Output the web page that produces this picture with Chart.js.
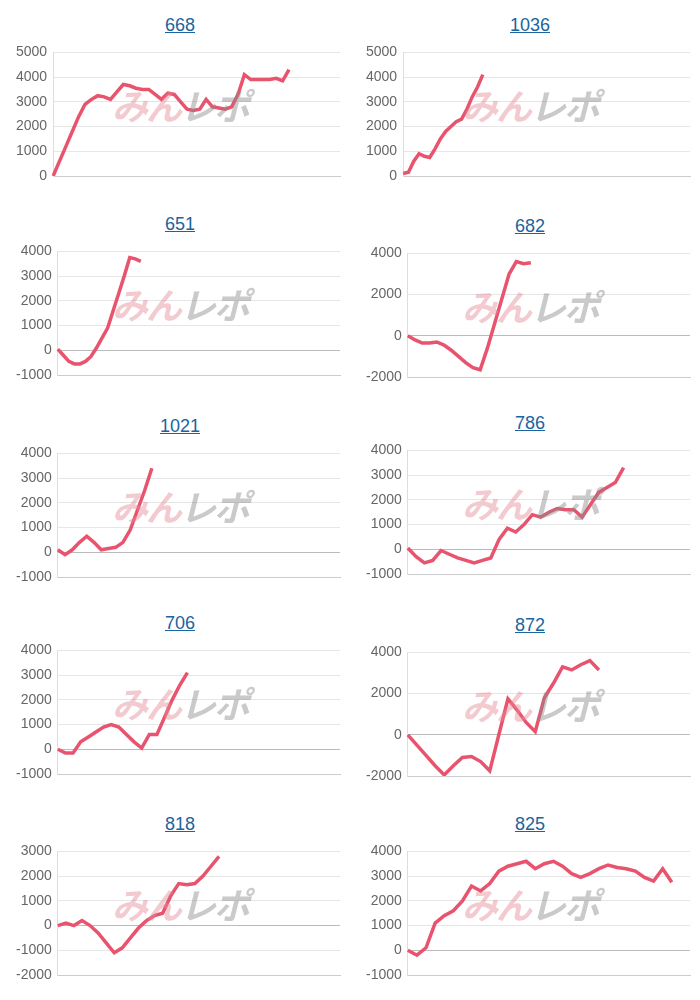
<!DOCTYPE html>
<html><head><meta charset="utf-8">
<script src="https://cdn.jsdelivr.net/npm/chart.js@4"></script>
<style>
body{margin:0;width:700px;height:1000px;background:#fff;font-family:Arial,"Liberation Sans",sans-serif;position:relative;overflow:hidden}
.t{position:absolute;width:340px;text-align:center;font-size:18px;color:#1a64a0;text-decoration:underline;line-height:20px}
.c{position:absolute}
.wm{position:absolute;font:italic bold 36px "Noto Sans CJK JP",sans-serif;letter-spacing:-2px;opacity:.45;pointer-events:none}
.wm .a{color:#e48a95}.wm .b{color:#8a8a8a}
</style></head><body>
<script>
const titles=["668","1036","651","682","1021","786","706","872","818","825"];
const totals=[46,55,52,40,40,35,38,32,36,32];
const s668=[0,600,1200,1800,2400,2900,3100,3250,3200,3100,3400,3700,3650,3550,3500,3500,3300,3100,3350,3300,3000,2700,2650,2700,3100,2800,2750,2700,2800,3300,4100,3900,3900,3900,3900,3950,3850,4300];
const s1036=[100,150,600,900,800,750,1100,1500,1800,2000,2200,2300,2700,3200,3600,4100];
const s651=[50,-200,-450,-550,-550,-450,-250,100,500,900,1600,2300,3000,3750,3700,3600];
const s682=[0,-200,-350,-350,-300,-450,-700,-1000,-1300,-1550,-1650,-600,600,1800,3000,3600,3500,3550];
const s1021=[100,-100,100,400,650,400,100,150,200,400,900,1700,2500,3400];
const s786=[50,-300,-550,-450,-50,-200,-350,-450,-550,-450,-350,400,850,700,1000,1400,1300,1500,1650,1600,1600,1300,1800,2300,2500,2700,3300];
const s706=[0,-150,-150,300,500,700,900,1000,900,600,300,50,600,600,1300,2000,2600,3100];
const s872=[0,-500,-1000,-1500,-1950,-1500,-1100,-1050,-1300,-1750,0,1750,1200,600,150,1800,2500,3300,3150,3400,3600,3150];
const s818=[0,100,0,200,0,-300,-700,-1100,-900,-500,-100,200,400,500,1200,1700,1650,1700,2000,2400,2800];
const s825=[0,-200,100,1100,1400,1600,2000,2600,2400,2700,3200,3400,3500,3600,3300,3500,3600,3400,3100,2950,3100,3300,3450,3350,3300,3200,2950,2800,3300,2750];
const series=[s668,s1036,s651,s682,s1021,s786,s706,s872,s818,s825];
const yMin=[0,0,-1000,-2000,-1000,-1000,-1000,-2000,-2000,-1000];
const yMax=[5000,5000,4000,4000,4000,4000,4000,4000,3000,4000];
const ySteps=[1000,1000,1000,2000,1000,1000,1000,2000,1000,1000];
const titleY=[26,26,225,227,427,424,624,626,825,825];
series.forEach((data,i)=>{
  const col=i%2, left=col?350:0, ty=titleY[i];
  const t=document.createElement('div');t.className='t';t.textContent=titles[i];
  t.style.left=(left+10)+'px';t.style.top=(ty-11)+'px';document.body.appendChild(t);
  const d=document.createElement('div');d.className='c';
  d.style.left=left+'px';d.style.top=(ty+12)+'px';d.style.width=(col?350:345)+'px';d.style.height='156px';
  const cv=document.createElement('canvas');d.appendChild(cv);document.body.appendChild(d);
  const w=document.createElement('div');w.className='wm';w.innerHTML='<span class="a">みん</span><span class="b">レポ</span>';
  w.style.left=(left+112)+'px';w.style.top=(ty+52)+'px';document.body.appendChild(w);
  const labels=Array.from({length:totals[i]},(_,k)=>String(k+1));
  new Chart(cv,{type:'line',data:{labels,datasets:[{data,borderColor:'#e8546e',borderWidth:3.5,pointRadius:0,tension:0,fill:false}]},
  options:{responsive:true,maintainAspectRatio:false,animation:false,
   layout:{padding:{top:8,bottom:10,right:col?10:5,left:10}},
   plugins:{legend:{display:false},tooltip:{enabled:false}},
   scales:{x:{ticks:{display:false},grid:{display:false},border:{color:'#ccc'}},
    y:{min:yMin[i],max:yMax[i],ticks:{stepSize:ySteps[i],color:'#666',font:{size:14,family:'Arial'},padding:6,callback:v=>String(v)},
     grid:{color:c=>c.tick&&c.tick.value===0?'#bbb':'#e6e6e6',drawTicks:false},border:{display:true,color:'#ddd'}}}}});
});
</script>
</body></html>
